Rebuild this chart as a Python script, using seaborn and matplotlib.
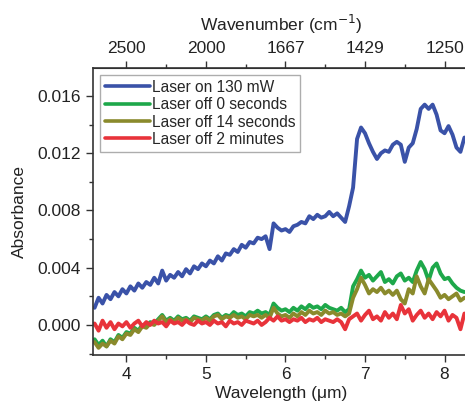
"""
Absorbance spectra, laser on / off, wavelength + wavenumber axes
"""

import matplotlib
matplotlib.use("Agg")
import matplotlib.pyplot as plt
from matplotlib.ticker import MultipleLocator
import pandas as pd
import seaborn as sns

# Data
wavelength = [
    3.60, 3.65, 3.70, 3.75, 3.80, 3.85, 3.90, 3.95, 4.00, 4.05,
    4.10, 4.15, 4.20, 4.25, 4.30, 4.35, 4.40, 4.45, 4.50, 4.55,
    4.60, 4.65, 4.70, 4.75, 4.80, 4.85, 4.90, 4.95, 5.00, 5.05,
    5.10, 5.15, 5.20, 5.25, 5.30, 5.35, 5.40, 5.45, 5.50, 5.55,
    5.60, 5.65, 5.70, 5.75, 5.80, 5.85, 5.90, 5.95, 6.00, 6.05,
    6.10, 6.15, 6.20, 6.25, 6.30, 6.35, 6.40, 6.45, 6.50, 6.55,
    6.60, 6.65, 6.70, 6.75, 6.80, 6.85, 6.90, 6.95, 7.00, 7.05,
    7.10, 7.15, 7.20, 7.25, 7.30, 7.35, 7.40, 7.45, 7.50, 7.55,
    7.60, 7.65, 7.70, 7.75, 7.80, 7.85, 7.90, 7.95, 8.00, 8.05,
    8.10, 8.15, 8.20, 8.25,
]

laser_on = [
    0.0012, 0.0019, 0.0015, 0.0021, 0.0018, 0.0023, 0.0020, 0.0025, 0.0022, 0.0027,
    0.0024, 0.0029, 0.0026, 0.0030, 0.0028, 0.0033, 0.0029, 0.0038, 0.0031, 0.0035,
    0.0033, 0.0037, 0.0034, 0.0039, 0.0036, 0.0041, 0.0039, 0.0043, 0.0041, 0.0045,
    0.0043, 0.0048, 0.0045, 0.0050, 0.0049, 0.0053, 0.0051, 0.0056, 0.0054, 0.0058,
    0.0057, 0.0061, 0.0060, 0.0062, 0.0053, 0.0071, 0.0068, 0.0066, 0.0067, 0.0065,
    0.0069, 0.0070, 0.0072, 0.0071, 0.0076, 0.0074, 0.0077, 0.0075, 0.0076, 0.0079,
    0.0076, 0.0078, 0.0075, 0.0072, 0.0083, 0.0096, 0.0130, 0.0138, 0.0134, 0.0127,
    0.0121, 0.0116, 0.0120, 0.0122, 0.0121, 0.0126, 0.0128, 0.0126, 0.0114, 0.0124,
    0.0127, 0.0137, 0.0151, 0.0154, 0.0151, 0.0154, 0.0147, 0.0136, 0.0134, 0.0139,
    0.0133, 0.0124, 0.0121, 0.0131,
]

off_0s = [
    -0.0010, -0.0014, -0.0011, -0.0015, -0.0010, -0.0012, -0.0007, -0.0009, -0.0005, -0.0006,
    -0.0002, -0.0004, 0.0000, -0.0001, 0.0002, 0.0001, 0.0004, 0.0007, 0.0003, 0.0005,
    0.0003, 0.0006, 0.0004, 0.0005, 0.0003, 0.0006, 0.0005, 0.0004, 0.0006, 0.0004,
    0.0007, 0.0008, 0.0005, 0.0007, 0.0006, 0.0009, 0.0007, 0.0008, 0.0006, 0.0009,
    0.0008, 0.0010, 0.0008, 0.0009, 0.0007, 0.0015, 0.0012, 0.0010, 0.0011, 0.0009,
    0.0012, 0.0010, 0.0013, 0.0011, 0.0014, 0.0012, 0.0013, 0.0011, 0.0014, 0.0012,
    0.0011, 0.0010, 0.0012, 0.0009, 0.0011, 0.0027, 0.0032, 0.0038, 0.0033, 0.0035,
    0.0031, 0.0034, 0.0037, 0.0030, 0.0032, 0.0029, 0.0034, 0.0036, 0.0031, 0.0033,
    0.0030, 0.0038, 0.0044, 0.0039, 0.0031, 0.0040, 0.0043, 0.0036, 0.0032, 0.0033,
    0.0029, 0.0026, 0.0024, 0.0023,
]

off_14s = [
    -0.0012, -0.0016, -0.0013, -0.0015, -0.0011, -0.0013, -0.0008, -0.0010, -0.0006, -0.0007,
    -0.0003, -0.0005, -0.0001, -0.0002, 0.0001, 0.0000, 0.0003, 0.0006, 0.0002, 0.0004,
    0.0002, 0.0005, 0.0003, 0.0004, 0.0002, 0.0005, 0.0004, 0.0003, 0.0005, 0.0003,
    0.0006, 0.0007, 0.0004, 0.0006, 0.0005, 0.0007, 0.0005, 0.0006, 0.0004, 0.0007,
    0.0006, 0.0007, 0.0005, 0.0007, 0.0005, 0.0012, 0.0008, 0.0006, 0.0007, 0.0005,
    0.0008, 0.0006, 0.0009, 0.0007, 0.0010, 0.0008, 0.0009, 0.0007, 0.0010, 0.0008,
    0.0009, 0.0007, 0.0008, 0.0006, 0.0008, 0.0019, 0.0025, 0.0033, 0.0028, 0.0022,
    0.0025, 0.0023, 0.0026, 0.0022, 0.0024, 0.0021, 0.0024, 0.0018, 0.0015, 0.0025,
    0.0022, 0.0034, 0.0027, 0.0022, 0.0032, 0.0028, 0.0024, 0.0019, 0.0021, 0.0018,
    0.0020, 0.0022, 0.0017, 0.0019,
]

off_2min = [
    0.0001, -0.0004, 0.0003, -0.0002, 0.0002, -0.0003, 0.0001, -0.0001, 0.0002, -0.0002,
    0.0001, 0.0003, -0.0001, 0.0002, 0.0000, 0.0003, 0.0001, 0.0002, -0.0001, 0.0003,
    0.0001, 0.0002, 0.0000, 0.0003, 0.0001, 0.0000, 0.0003, 0.0001, 0.0002, 0.0000,
    0.0003, 0.0001, 0.0002, -0.0001, 0.0003, 0.0001, 0.0002, 0.0000, 0.0003, 0.0002,
    0.0001, 0.0003, 0.0000, 0.0002, 0.0005, 0.0003, 0.0006, 0.0003, 0.0004, 0.0002,
    0.0004, 0.0003, 0.0005, 0.0002, 0.0004, 0.0003, 0.0005, 0.0002, 0.0004, 0.0003,
    0.0002, 0.0004, 0.0002, -0.0003, 0.0004, 0.0006, 0.0008, 0.0003, 0.0007, 0.0010,
    0.0004, 0.0006, 0.0003, 0.0009, 0.0005, 0.0008, 0.0004, 0.0014, 0.0008, 0.0011,
    0.0003, 0.0007, 0.0010, 0.0005, 0.0008, 0.0004, 0.0009, 0.0006, 0.0010, 0.0003,
    0.0007, 0.0005, -0.0003, 0.0008,
]

series_names = [
    "Laser on 130 mW",
    "Laser off 0 seconds",
    "Laser off 14 seconds",
    "Laser off 2 minutes",
]
series_colors = ["#3a52a8", "#1ea84a", "#8a8a2c", "#e8333a"]

top_tick_pos = [4, 5, 6, 7, 8]
top_tick_labels = ["2500", "2000", "1667", "1429", "1250"]
y_ticks = [0.000, 0.004, 0.008, 0.012, 0.016]

# Long-form table for seaborn
df = pd.DataFrame({
    "wavelength": wavelength,
    series_names[0]: laser_on,
    series_names[1]: off_0s,
    series_names[2]: off_14s,
    series_names[3]: off_2min,
})
df_long = df.melt(id_vars="wavelength", var_name="series", value_name="absorbance")

sns.set_style("ticks")
plt.rcParams["font.family"] = ["Liberation Sans", "DejaVu Sans"]
plt.rcParams["xtick.direction"] = "out"
plt.rcParams["ytick.direction"] = "out"

fig = plt.figure(figsize=(4.65, 4.04), dpi=100)
ax = fig.add_axes([93 / 465, 49 / 404, 377 / 465, 287 / 404])

sns.lineplot(
    data=df_long,
    x="wavelength",
    y="absorbance",
    hue="series",
    hue_order=series_names,
    palette=series_colors,
    estimator=None,
    linewidth=2.8,
    ax=ax,
)

ax.set_xlim(3.58, 8.32)
ax.set_ylim(-0.0021, 0.01796)
ax.set_yticks(y_ticks)
ax.set_yticklabels([f"{v:.3f}" for v in y_ticks])
ax.xaxis.set_minor_locator(MultipleLocator(0.5))
ax.yaxis.set_minor_locator(MultipleLocator(0.002))
ax.tick_params(which="major", length=5, width=1, labelsize=12.5,
               color="#333333", labelcolor="#222222")
ax.tick_params(which="minor", length=3, width=1, color="#333333")
ax.set_xlabel("Wavelength (\u03bcm)", fontsize=12.5, labelpad=3, color="#222222")
ax.set_ylabel("Absorbance", fontsize=12.5, labelpad=8, color="#222222")
for sp in ax.spines.values():
    sp.set_linewidth(1.2)
    sp.set_color("#333333")

# Top axis: wavenumber
secax = ax.secondary_xaxis("top", functions=(lambda x: x, lambda x: x))
secax.set_xticks(top_tick_pos)
secax.set_xticklabels(top_tick_labels)
secax.xaxis.set_minor_locator(MultipleLocator(0.5))
secax.tick_params(which="major", length=5, width=1, labelsize=12.5,
                  color="#333333", labelcolor="#222222")
secax.tick_params(which="minor", length=3, width=1, color="#333333")
secax.set_xlabel("Wavenumber (cm$^{-1}$)", fontsize=12.5, labelpad=7, color="#222222")

leg = ax.legend(
    loc="upper left",
    bbox_to_anchor=(0.019, 0.975),
    fontsize=11.2,
    frameon=True,
    fancybox=False,
    edgecolor="#999999",
    handlelength=2.9,
    handletextpad=0.15,
    borderpad=0.3,
    labelspacing=0.15,
    borderaxespad=0,
)
leg.get_frame().set_linewidth(1.0)
for line in leg.get_lines():
    line.set_linewidth(2.6)

fig.savefig("out.png", dpi=100)
